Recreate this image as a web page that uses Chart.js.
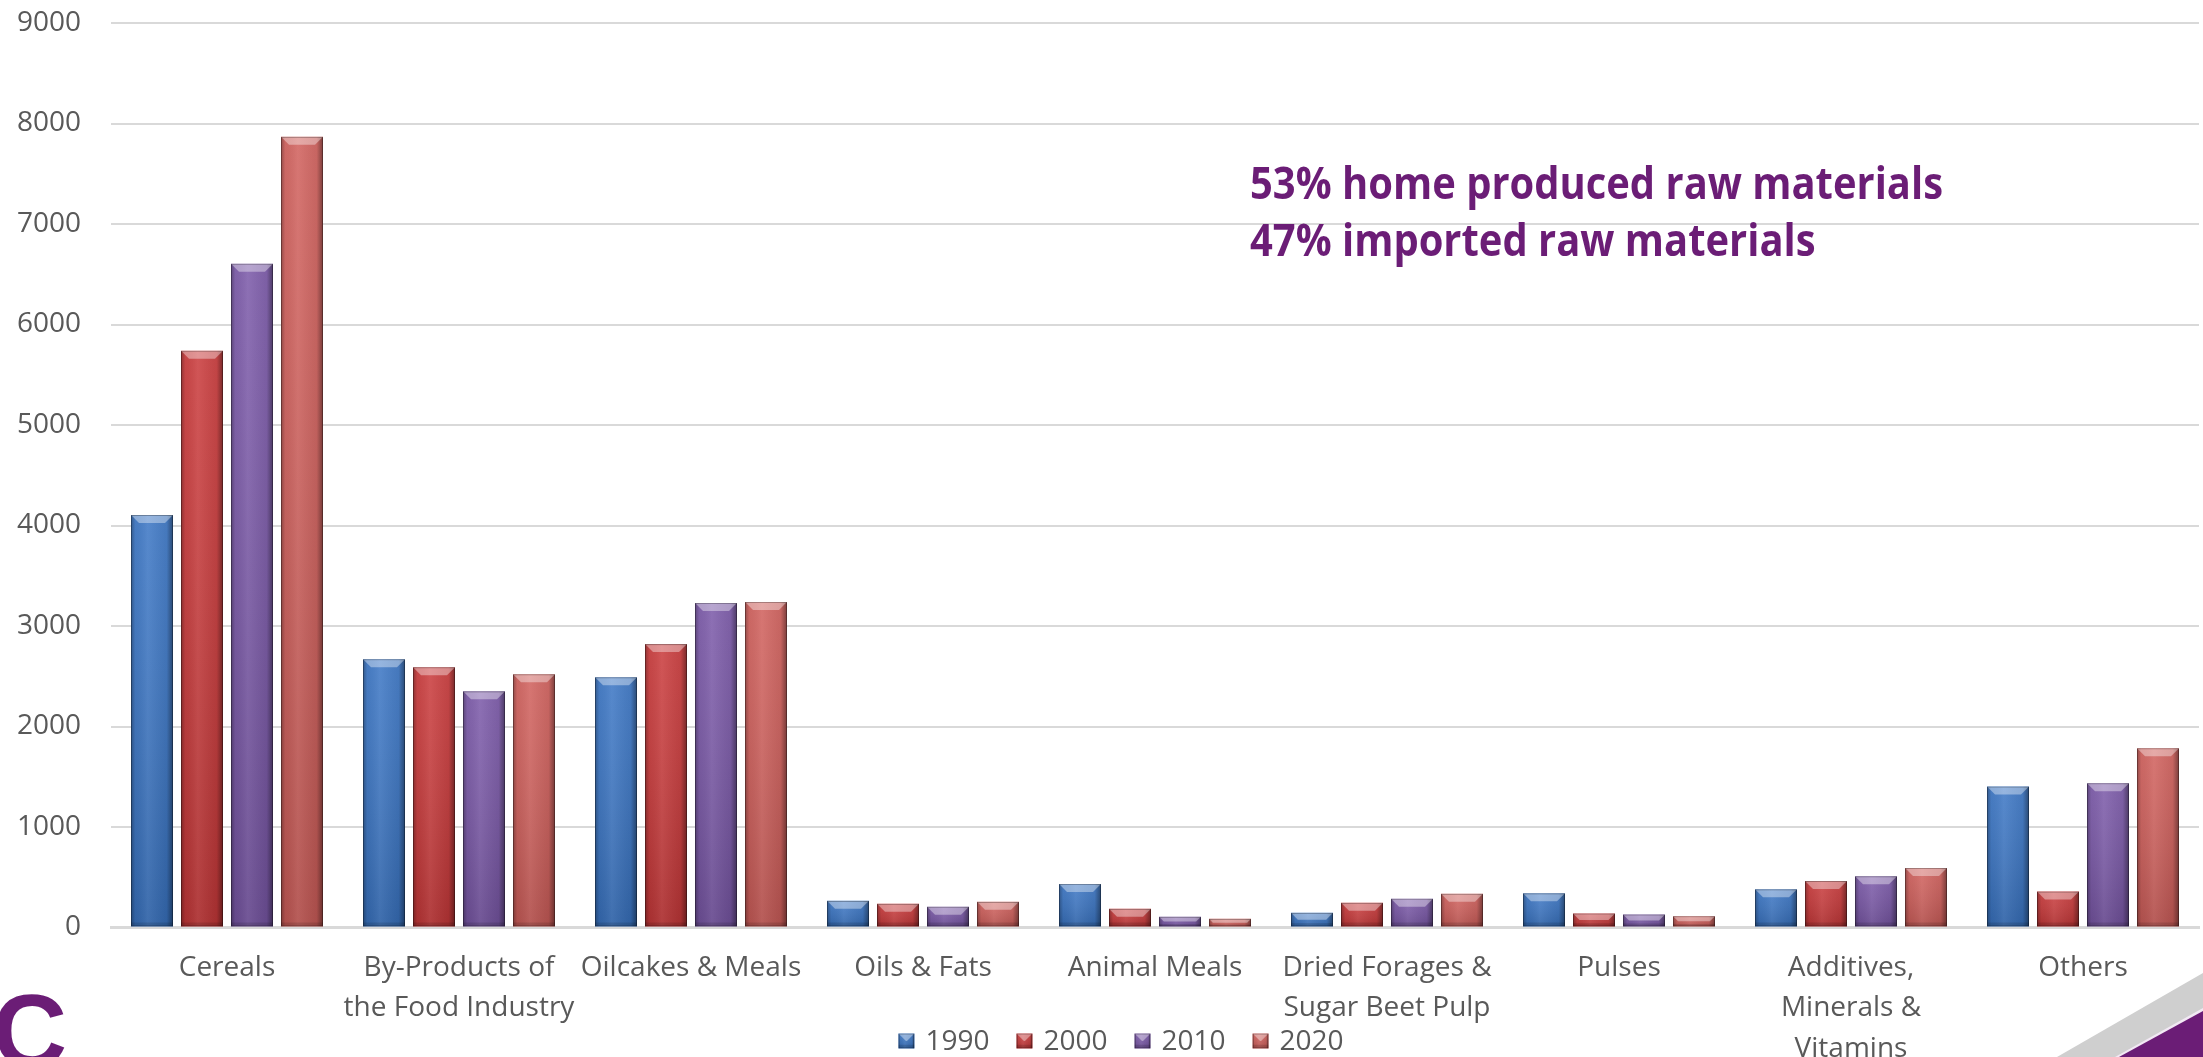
<!DOCTYPE html>
<html><head><meta charset="utf-8">
<script src="https://cdn.jsdelivr.net/npm/chart.js@4.4.1/dist/chart.umd.min.js"></script>
<style>
html,body{margin:0;padding:0;background:#fff;overflow:hidden}
#wrap{position:relative;width:2203px;height:1057px}
</style>
</head><body>
<div id="wrap"><canvas id="c"></canvas></div>
<script>
// ---- data ----
const categories = [
  "Cereals",
  ["By-Products of", "the Food Industry"],
  "Oilcakes & Meals",
  "Oils & Fats",
  "Animal Meals",
  ["Dried Forages &", "Sugar Beet Pulp"],
  "Pulses",
  ["Additives,", "Minerals &", "Vitamins"],
  "Others"
];
const seriesNames = ["1990", "2000", "2010", "2020"];
const values1990 = [4105, 2670, 2490, 265, 434, 146, 340, 380, 1403];
const values2000 = [5740, 2590, 2820, 236, 186, 246, 140, 463, 358];
const values2010 = [6605, 2350, 3230, 207, 107, 287, 130, 510, 1436];
const values2020 = [7868, 2520, 3240, 255, 86, 336, 113, 593, 1784];
const yMin = 0, yMax = 9000, yStep = 1000;
const annotationLines = ["53% home produced raw materials", "47% imported raw materials"];
const logoText = "C";

// ---- styles ----
const seriesColors = ["#3A75C4", "#C9393A", "#7A58A8", "#D05F5B"];
const textGray = "#595959";
const gridGray = "#D9D9D9";
const purple = "#6B1D76";
const FONT = "'Open Sans', 'Noto Sans', sans-serif";

function drawBevel(ctx, x, y, w, h) {
  if (h <= 0 || w <= 0) return;
  ctx.save();
  ctx.beginPath(); ctx.rect(x, y, w, h); ctx.clip();
  let g = ctx.createLinearGradient(0, y, 0, y + h);
  g.addColorStop(0, 'rgba(255,255,255,0.08)');
  g.addColorStop(1, 'rgba(0,0,0,0.14)');
  ctx.fillStyle = g; ctx.fillRect(x, y, w, h);
  g = ctx.createLinearGradient(x, 0, x + w, 0);
  g.addColorStop(0, 'rgba(0,0,0,0.30)');
  g.addColorStop(0.1, 'rgba(0,0,0,0.04)');
  g.addColorStop(0.4, 'rgba(255,255,255,0.07)');
  g.addColorStop(0.85, 'rgba(0,0,0,0.06)');
  g.addColorStop(1, 'rgba(0,0,0,0.42)');
  ctx.fillStyle = g; ctx.fillRect(x, y, w, h);
  const b = Math.min(8, h / 2, w / 2);
  ctx.beginPath();
  ctx.moveTo(x, y); ctx.lineTo(x + w, y); ctx.lineTo(x + w - b, y + b); ctx.lineTo(x + b, y + b); ctx.closePath();
  ctx.fillStyle = 'rgba(255,255,255,0.38)'; ctx.fill();
  const bb = Math.min(4, h / 4);
  ctx.fillStyle = 'rgba(0,0,0,0.12)'; ctx.fillRect(x, y + h - bb, w, bb);
  ctx.strokeStyle = 'rgba(0,0,0,0.30)'; ctx.lineWidth = 1;
  ctx.strokeRect(x + 0.5, y + 0.5, w - 1, h - 1);
  ctx.restore();
}

const decoPlugin = {
  id: 'deco',
  afterDatasetsDraw(chart) {
    const ctx = chart.ctx;
    chart.data.datasets.forEach((ds, di) => {
      const meta = chart.getDatasetMeta(di);
      meta.data.forEach(el => {
        const p = el.getProps(['x', 'y', 'base', 'width'], true);
        const top = Math.min(p.y, p.base), bot = Math.max(p.y, p.base);
        drawBevel(ctx, p.x - p.width / 2, top, p.width, bot - top);
      });
    });
  },
  afterDraw(chart) {
    const ctx = chart.ctx;
    const W = chart.width, H = chart.height;
    ctx.save();
    // annotation text
    const targetW = 693;
    ctx.font = "bold 44px " + FONT;
    const mw = ctx.measureText(annotationLines[0]).width;
    const sx = targetW / mw;
    ctx.fillStyle = purple;
    ctx.textBaseline = 'alphabetic';
    ctx.textAlign = 'left';
    [199, 256].forEach((by, i) => {
      ctx.save();
      ctx.translate(1250, by);
      ctx.scale(sx, 1);
      ctx.fillText(annotationLines[i], 0, 0);
      ctx.restore();
    });
    // legend
    ctx.font = "28px " + FONT;
    const boxW = 16, boxH = 15, gapBT = 11, gapItem = 27, cy = 1041;
    const widths = chart.data.datasets.map(d => ctx.measureText(d.label).width);
    const total = widths.reduce((a, w) => a + boxW + gapBT + w, 0) + gapItem * (widths.length - 1);
    let lx = 1121 - total / 2;
    chart.data.datasets.forEach((d, i) => {
      ctx.fillStyle = d.backgroundColor;
      ctx.fillRect(lx, cy - boxH / 2, boxW, boxH);
      drawBevel(ctx, lx, cy - boxH / 2, boxW, boxH);
      ctx.fillStyle = textGray;
      ctx.textBaseline = 'middle';
      ctx.fillText(d.label, lx + boxW + gapBT, cy + 1);
      lx += boxW + gapBT + widths[i] + gapItem;
    });
    // logo fragment bottom-left
    ctx.fillStyle = purple;
    ctx.font = "bold 104px 'Liberation Sans', Arial, sans-serif";
    ctx.textBaseline = 'alphabetic';
    ctx.fillText(logoText, -8, H + 10);
    // bottom-right decoration
    ctx.beginPath();
    ctx.moveTo(2057, H); ctx.lineTo(W, 973); ctx.lineTo(W, H); ctx.closePath();
    ctx.fillStyle = '#CFCFCF'; ctx.fill();
    ctx.beginPath();
    ctx.moveTo(2115, H); ctx.lineTo(W, 1008); ctx.lineTo(W, H); ctx.closePath();
    ctx.fillStyle = '#F2E9F4'; ctx.fill();
    ctx.beginPath();
    ctx.moveTo(2119, H); ctx.lineTo(W, 1011); ctx.lineTo(W, H); ctx.closePath();
    ctx.fillStyle = purple; ctx.fill();
    ctx.restore();
  }
};

const seriesValues = [values1990, values2000, values2010, values2020];
const datasets = seriesNames.map((name, i) => ({
  label: name,
  data: seriesValues[i],
  backgroundColor: seriesColors[i],
  borderWidth: 0,
  categoryPercentage: 0.862,
  barPercentage: 0.84
}));

new Chart(document.getElementById('c'), {
  type: 'bar',
  data: { labels: categories, datasets },
  plugins: [decoPlugin],
  options: {
    responsive: true,
    maintainAspectRatio: false,
    animation: false,
    layout: { padding: { top: 23, right: 4, bottom: 0, left: 0 } },
    plugins: { legend: { display: false }, tooltip: { enabled: false } },
    scales: {
      x: {
        grid: { display: false, drawTicks: false },
        border: { display: true, color: gridGray, width: 3 },
        ticks: {
          color: textGray, font: { family: FONT, size: 28, lineHeight: 1.45 },
          padding: 20, maxRotation: 0, minRotation: 0, autoSkip: false
        },
        afterFit(scale) { scale.height = 129.5; }
      },
      y: {
        min: yMin, max: yMax,
        grid: { color: gridGray, lineWidth: 2, drawTicks: false },
        border: { display: false },
        ticks: {
          stepSize: yStep, color: textGray, padding: 30,
          font: { family: FONT, size: 28 },
          callback: (v) => String(v)
        },
        afterFit(scale) {
          scale.width = 111;
          scale.paddingTop = 0;
          scale.paddingBottom = 0;
        }
      }
    }
  }
});
</script>
</body></html>
